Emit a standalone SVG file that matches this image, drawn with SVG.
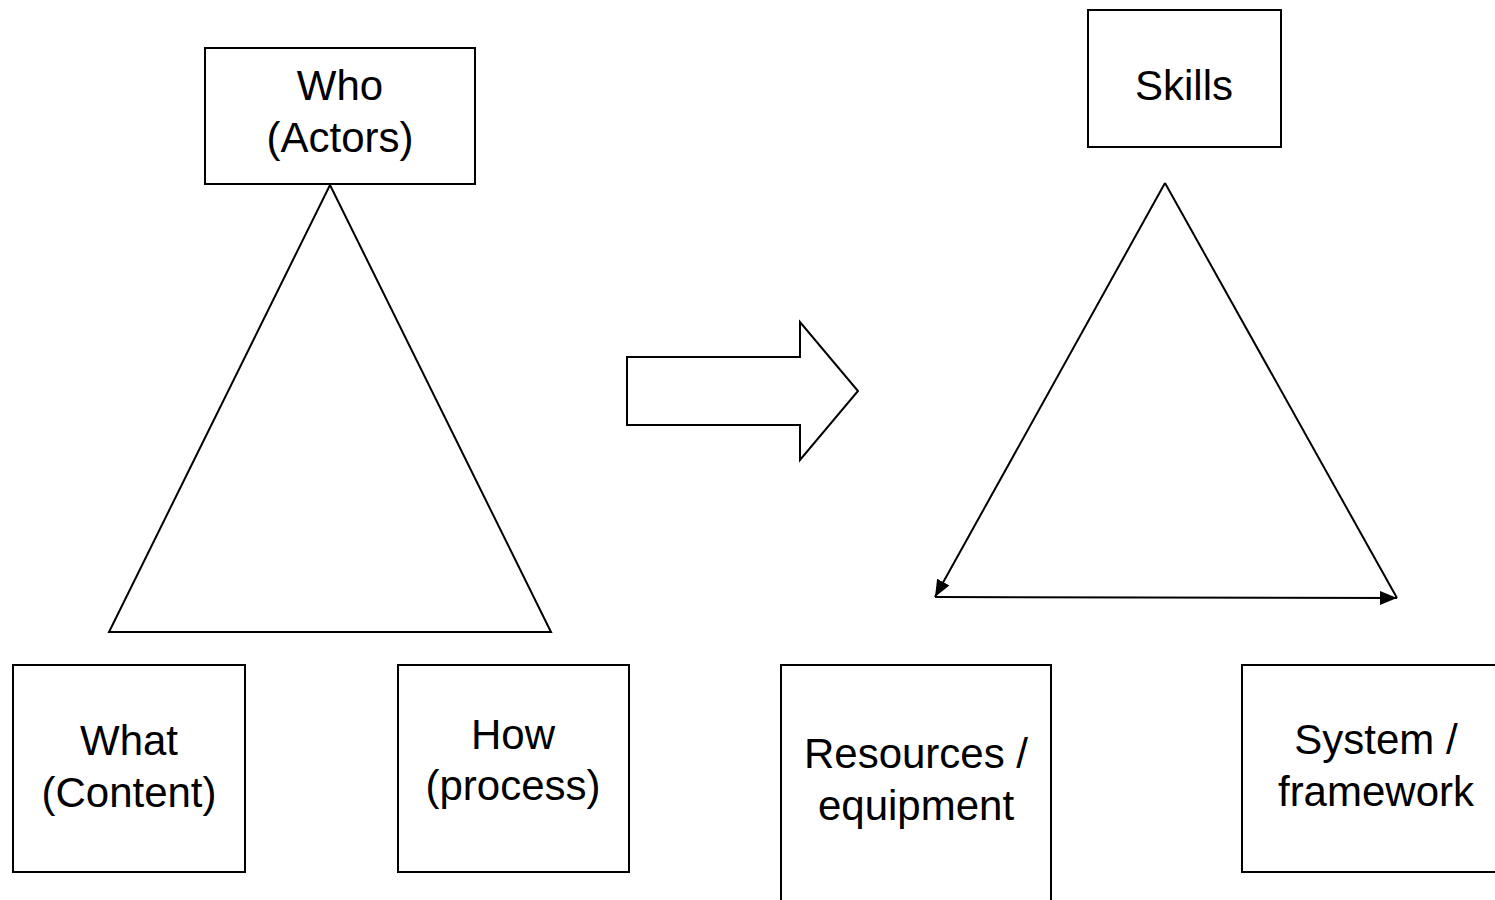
<svg xmlns="http://www.w3.org/2000/svg" width="1495" height="900" viewBox="0 0 1495 900">
  <style>
    .box { fill: #ffffff; stroke: #000000; stroke-width: 2; }
    .shape { fill: #ffffff; stroke: #000000; stroke-width: 2; stroke-linejoin: miter; }
    .edge { fill: none; stroke: #000000; stroke-width: 2; }
    .lbl { font-family: "Liberation Sans", Arial, sans-serif; font-size: 42px; fill: #000000; text-anchor: middle; }
  </style>
  <defs>
    <marker id="ah" markerUnits="userSpaceOnUse" markerWidth="18" markerHeight="14" refX="17" refY="7" orient="auto">
      <path d="M0,0 L17,7 L0,14 z" fill="#000000"/>
    </marker>
  </defs>
  <rect width="1495" height="900" fill="#ffffff"/>

  <g id="connectors">
    <polygon id="left-triangle" class="shape" points="330,185 551,632 109,632"/>
    <polygon id="transition-arrow" class="shape" points="627,357 800,357 800,322 858,391 800,460 800,425 627,425"/>
    <line class="edge" x1="1165" y1="183" x2="1397" y2="598"/>
    <line class="edge" x1="1165" y1="183" x2="935" y2="597" marker-end="url(#ah)"/>
    <line class="edge" x1="935" y1="597" x2="1397" y2="598" marker-end="url(#ah)"/>
  </g>

  <g id="who">
    <rect class="box" x="205" y="48" width="270" height="136"/>
    <text class="lbl" x="340" y="100">Who</text>
    <text class="lbl" x="340" y="152">(Actors)</text>
  </g>

  <g id="what">
    <rect class="box" x="13" y="665" width="232" height="207"/>
    <text class="lbl" x="129" y="755">What</text>
    <text class="lbl" x="129" y="807">(Content)</text>
  </g>

  <g id="how">
    <rect class="box" x="398" y="665" width="231" height="207"/>
    <text class="lbl" x="513" y="749">How</text>
    <text class="lbl" x="513" y="800">(process)</text>
  </g>

  <g id="skills">
    <rect class="box" x="1088" y="10" width="193" height="137"/>
    <text class="lbl" x="1184" y="100">Skills</text>
  </g>

  <g id="resources">
    <rect class="box" x="781" y="665" width="270" height="250"/>
    <text class="lbl" x="916" y="768">Resources /</text>
    <text class="lbl" x="916" y="820">equipment</text>
  </g>

  <g id="system">
    <rect class="box" x="1242" y="665" width="268" height="207"/>
    <text class="lbl" x="1376" y="754">System /</text>
    <text class="lbl" x="1376" y="806">framework</text>
  </g>
</svg>
